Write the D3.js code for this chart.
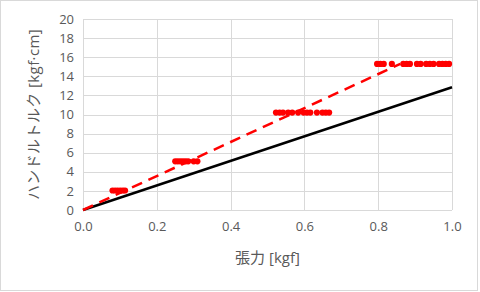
<!DOCTYPE html>
<html>
<head>
<meta charset="utf-8">
<script src="https://cdn.jsdelivr.net/npm/d3@7"></script>
<style>
  body { margin: 0; background: #fff; }
  text { font-family: "Open Sans", "Noto Sans CJK JP", sans-serif; fill: #595959; }
</style>
</head>
<body>
<div class="canvas"></div>
<script>
// measured points (tension kgf, torque kgf*cm)
var level2x = [0.08, 0.087, 0.094, 0.101, 0.108, 0.114];
var level5x = [0.25, 0.257, 0.264, 0.271, 0.278, 0.285, 0.30, 0.31];
var level10x = [0.523, 0.533, 0.542, 0.556, 0.567, 0.583, 0.598, 0.607, 0.616, 0.634, 0.649, 0.658, 0.667];
var level15x = [0.797, 0.806, 0.815, 0.837, 0.868, 0.877, 0.886, 0.905, 0.915, 0.93, 0.94, 0.95, 0.965, 0.974, 0.983, 0.992];
var levels = [2.04, 5.1, 10.2, 15.3];
var fitLine = [[0, 0], [0.86, 15.3]];
var theoryLine = [[0, 0], [1.0, 12.85]];
var xTicks = [0, 0.2, 0.4, 0.6, 0.8, 1.0];
var yTicks = [0, 2, 4, 6, 8, 10, 12, 14, 16, 18, 20];

(function torquechart() {
  var W = 480, H = 292;
  var margin = { top: 19, right: 28, bottom: 82, left: 83 };
  var width = W - margin.left - margin.right;
  var height = H - margin.top - margin.bottom;

  var svg = d3.select(".canvas").append("svg")
    .attr("width", W).attr("height", H);

  svg.append("rect")
    .attr("x", 0.5).attr("y", 0.5)
    .attr("width", W - 3).attr("height", H - 2)
    .attr("fill", "#fff").attr("stroke", "#d9d9d9");

  var g = svg.append("g").attr("transform", "translate(" + margin.left + "," + margin.top + ")");

  var x = d3.scaleLinear().domain([0, 1]).range([0, width]);
  var y = d3.scaleLinear().domain([0, 20]).range([height, 0]);

  // grid
  g.selectAll(".hgrid").data(yTicks).enter().append("line")
    .attr("x1", 0).attr("x2", width)
    .attr("y1", function(d){ return Math.round(y(d)) + 0.5; })
    .attr("y2", function(d){ return Math.round(y(d)) + 0.5; })
    .attr("stroke", "#d9d9d9");
  g.selectAll(".vgrid").data(xTicks).enter().append("line")
    .attr("y1", 0).attr("y2", height)
    .attr("x1", function(d){ return Math.round(x(d)) + 0.5; })
    .attr("x2", function(d){ return Math.round(x(d)) + 0.5; })
    .attr("stroke", "#d9d9d9");

  // axes
  var xAxis = g.append("g").attr("transform", "translate(0," + height + ")")
    .call(d3.axisBottom(x).tickValues(xTicks).tickFormat(d3.format(".1f")).tickSize(0).tickPadding(12));
  var yAxis = g.append("g")
    .call(d3.axisLeft(y).tickValues(yTicks).tickSize(0).tickPadding(9));
  [xAxis, yAxis].forEach(function(a){
    a.select(".domain").remove();
    a.selectAll("text").attr("font-size", 13).attr("font-family", "'Open Sans', sans-serif").attr("fill", "#595959");
  });

  var line = d3.line().x(function(d){ return x(d[0]); }).y(function(d){ return y(d[1]); });

  g.append("path").datum(theoryLine).attr("d", line)
    .attr("fill", "none").attr("stroke", "#000").attr("stroke-width", 2.5);

  g.append("path").datum(fitLine).attr("d", line)
    .attr("fill", "none").attr("stroke", "#ff0000").attr("stroke-width", 2.5)
    .attr("stroke-dasharray", "11,7");

  var pts = [];
  [level2x, level5x, level10x, level15x].forEach(function(xs, i){
    xs.forEach(function(v){ pts.push([v, levels[i]]); });
  });

  g.selectAll(".pt").data(pts).enter().append("circle")
    .attr("cx", function(d){ return x(d[0]); })
    .attr("cy", function(d){ return y(d[1]); })
    .attr("r", 3.1)
    .attr("fill", "#ff0000");

  svg.append("text")
    .attr("x", margin.left + width / 2).attr("y", 263)
    .attr("text-anchor", "middle").attr("font-size", 15)
    .text("張力 [kgf]");

  svg.append("text")
    .attr("transform", "translate(39," + (margin.top + height / 2) + ") rotate(-90)")
    .attr("text-anchor", "middle").attr("font-size", 15)
    .attr("letter-spacing", 0.4)
    .text("ハンドルトルク [kgf·cm]");
})();
</script>
</body>
</html>
